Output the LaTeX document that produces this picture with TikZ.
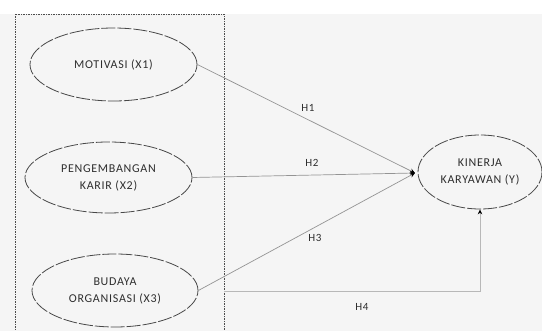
\documentclass[tikz,border=0pt]{standalone}
\usepackage{fontspec}
\setmainfont{Carlito}[LetterSpace=6]
\usetikzlibrary{shapes.geometric,arrows.meta}
\tikzset{
  var/.style={ellipse, draw=black!72, line width=0.8pt, dash pattern=on 14pt off 2pt,
    inner sep=0pt, align=center, font=\fontsize{12}{17}\selectfont, text=black!82},
  conn/.style={draw=black!42, line width=0.7pt, -{Stealth[length=5pt,width=4.5pt,black]}},
  hlab/.style={font=\fontsize{11}{12}\selectfont, text=black!82}
}
\begin{document}
\begin{tikzpicture}[x=1pt,y=-1pt]
\useasboundingbox (0,0) rectangle (542,331);
\fill[black!4] (0,14) rectangle (542,331);
\begin{scope}
\clip (0,0) rectangle (542,331);
\draw[black!70, line width=0.9pt, dash pattern=on 1.5pt off 1pt] (15,14) rectangle (224,345);
\end{scope}
\node[var, minimum width=167pt, minimum height=73pt] (m1) at (113.5,64.5) {MOTIVASI (X1)};
\node[var, minimum width=167pt, minimum height=71pt] (m2) at (108.5,177.5) {PENGEMBANGAN\\KARIR (X2)};
\node[var, minimum width=166pt, minimum height=73pt] (m3) at (115,290.5) {BUDAYA\\ORGANISASI (X3)};
\node[var, minimum width=124pt, minimum height=74pt] (y) at (480,172) {KINERJA\\KARYAWAN (Y)};
\coordinate (j) at (415,173);
\coordinate (h4s) at (224,291);
\draw[conn] (m1.east) -- (j);
\draw[conn] (m2.east) -- (j);
\draw[conn] (m3.east) -- (j);
\draw[conn, draw=black!28] (h4s) -| (y.south);
\node[hlab] (l1) at (308,108) {H1};
\node[hlab] (l2) at (312,163) {H2};
\node[hlab] (l3) at (315,238) {H3};
\node[hlab] (l4) at (362,307) {H4};
\end{tikzpicture}
\end{document}
